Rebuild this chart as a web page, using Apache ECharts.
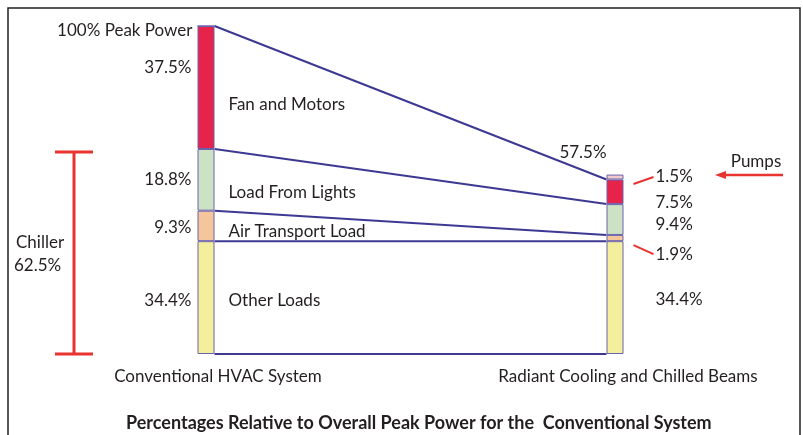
<!DOCTYPE html>
<html>
<head>
<meta charset="utf-8">
<script src="https://cdn.jsdelivr.net/npm/echarts@6/dist/echarts.min.js"></script>
<style>
html, body { margin: 0; background: #fff; }
#chart { width: 803px; height: 435px; }
</style>
</head>
<body>
<div id="chart"></div>
<script>
// data (bottom segment first)
const systems = ['Conventional HVAC System', 'Radiant Cooling and Chilled Beams'];
const loads = ['Other Loads', 'Air Transport Load', 'Load From Lights', 'Fan and Motors', 'Pumps'];
const conventional = [34.4, 9.3, 18.8, 37.5, 0];
const radiant = [34.4, 1.9, 9.4, 7.5, 1.5];
const radiantTotal = 57.5;
const chillerShare = 62.5;
const peakLabel = '100% Peak Power';

const colors = ['#f4ef9c', '#f5c59b', '#cde2c5', '#e5234b', '#f0caca'];
const font = 'Lato, "Open Sans", sans-serif';
const fs = 17;
const ink = '#231f20';
const barW = 17;

// label nudges (px) so labels sit where the original put them
const leftOffsets = [3, 2, 0, -20, 0];
const rightOffsets = [2, 16, 5, 11, -1];
const nameOffsets = [3, 6, 13, 17];

function cum(arr) {
    let s = 0;
    const out = [0];
    arr.forEach(v => { s += v; out.push(+s.toFixed(2)); });
    return out;
}
const cumL = cum(conventional);
const cumR = cum(radiant);

let myChart = echarts.init(document.getElementById('chart'));

const barSeries = loads.map((name, i) => ({
    name: name,
    type: 'bar',
    stack: 'load',
    barWidth: barW,
    itemStyle: { color: colors[i], borderColor: '#6b62ad', borderWidth: 1 },
    data: [
        {
            value: conventional[i],
            label: {
                show: conventional[i] > 0, position: 'left', distance: 6,
                offset: [0, leftOffsets[i]], formatter: '{c}%',
                color: ink, fontSize: fs, fontFamily: font
            }
        },
        {
            value: radiant[i],
            label: {
                show: true, position: 'right', distance: 32,
                offset: [0, rightOffsets[i]], formatter: '{c}%',
                color: ink, fontSize: fs, fontFamily: font
            }
        }
    ]
}));

// connecting lines between the two bars
const connectors = {
    type: 'custom',
    name: 'links',
    silent: true,
    z: 1,
    data: [0, 1, 2, 3, 4],
    renderItem: function (params, api) {
        const k = api.value(0);
        const a = api.coord([0, cumL[k]]);
        const b = api.coord([1, cumR[k]]);
        return {
            type: 'line',
            shape: { x1: a[0] + barW / 2, y1: a[1], x2: b[0] - barW / 2, y2: b[1] },
            style: { stroke: '#3d3993', lineWidth: 2 }
        };
    }
};

// load names to the right of the conventional bar
const names = {
    type: 'custom',
    name: 'names',
    silent: true,
    data: [0, 1, 2, 3],
    renderItem: function (params, api) {
        const i = api.value(0);
        const p = api.coord([0, (cumL[i] + cumL[i + 1]) / 2]);
        return {
            type: 'text',
            style: {
                x: p[0] + barW / 2 + 14, y: p[1] + nameOffsets[i],
                text: loads[i], fill: ink, font: fs + 'px ' + font,
                textAlign: 'left', textVerticalAlign: 'middle'
            }
        };
    }
};

myChart.setOption({
    animation: false,
    backgroundColor: '#fff',
    title: {
        text: 'Percentages Relative to Overall Peak Power for the  Conventional System',
        left: 121, top: 409,
        textStyle: { fontFamily: font, fontSize: 18, fontWeight: 'bold', color: ink }
    },
    grid: { left: 206, right: 188, top: 26, bottom: 81 },
    xAxis: {
        type: 'category',
        data: systems,
        boundaryGap: false,
        axisLine: { show: false },
        axisTick: { show: false },
        axisLabel: {
            margin: 14,
            formatter: (v, i) => i === 0 ? '{a|' + v + '}' : '{b|' + v + '}',
            rich: {
                a: { padding: [0, 0, 0, 24], fontSize: fs, fontFamily: font, color: ink },
                b: { padding: [0, 0, 0, 26], fontSize: fs, fontFamily: font, color: ink }
            }
        }
    },
    yAxis: { type: 'value', min: 0, max: 100, show: false },
    series: barSeries.concat([connectors, names])
});

// annotations placed from the axis scale
const px = (x, y) => myChart.convertToPixel({ gridIndex: 0 }, [x, y]);
const peakPt = px(0, 100);
const chTop = px(0, chillerShare);
const chBot = px(0, 0);
const rTop = px(1, cumR[4]);
const rx = rTop[0] + barW / 2;
const barTopR = px(1, cumR[5])[1];
const pumpMid = px(1, (cumR[4] + cumR[5]) / 2)[1] + rightOffsets[4];
const airMid = px(1, (cumR[1] + cumR[2]) / 2)[1] + rightOffsets[1];
const red = '#e8332f';
const txt = (x, y, text, align, extra) => Object.assign({
    type: 'text', x: x, y: y,
    style: { text: text, fill: ink, font: fs + 'px ' + font, align: align, verticalAlign: 'middle' }
}, extra || {});

myChart.setOption({
    graphic: [
        { type: 'polyline', shape: { points: [[8, 440], [8, 8], [800, 8], [800, 440]] },
          style: { stroke: '#222', lineWidth: 1.5, fill: null } },
        txt(peakPt[0] - barW / 2 - 5, peakPt[1] + 5, peakLabel, 'right'),
        txt(rTop[0] - 32, barTopR - 22, radiantTotal + '%', 'center'),
        // chiller bracket
        { type: 'line', shape: { x1: 74, y1: chTop[1] + 3, x2: 74, y2: chBot[1] }, style: { stroke: red, lineWidth: 3 } },
        { type: 'line', shape: { x1: 55, y1: chTop[1] + 3, x2: 93, y2: chTop[1] + 3 }, style: { stroke: red, lineWidth: 3 } },
        { type: 'line', shape: { x1: 55, y1: chBot[1], x2: 93, y2: chBot[1] }, style: { stroke: red, lineWidth: 3 } },
        txt(16, 243, 'Chiller', 'left'),
        txt(14, 266, chillerShare + '%', 'left'),
        // pointers to the small radiant segments
        { type: 'line', shape: { x1: rx + 10, y1: pumpMid + 8, x2: rx + 30, y2: pumpMid + 1 }, style: { stroke: red, lineWidth: 2 } },
        { type: 'line', shape: { x1: rx + 10, y1: airMid - 9, x2: rx + 30, y2: airMid }, style: { stroke: red, lineWidth: 2 } },
        // pumps arrow
        txt(756, 162, 'Pumps', 'center'),
        { type: 'line', shape: { x1: 783, y1: 175, x2: 722, y2: 175 }, style: { stroke: red, lineWidth: 2.5 } },
        { type: 'polygon', shape: { points: [[715, 175], [726, 171], [726, 179]] }, style: { fill: red } }
    ]
});
</script>
</body>
</html>
